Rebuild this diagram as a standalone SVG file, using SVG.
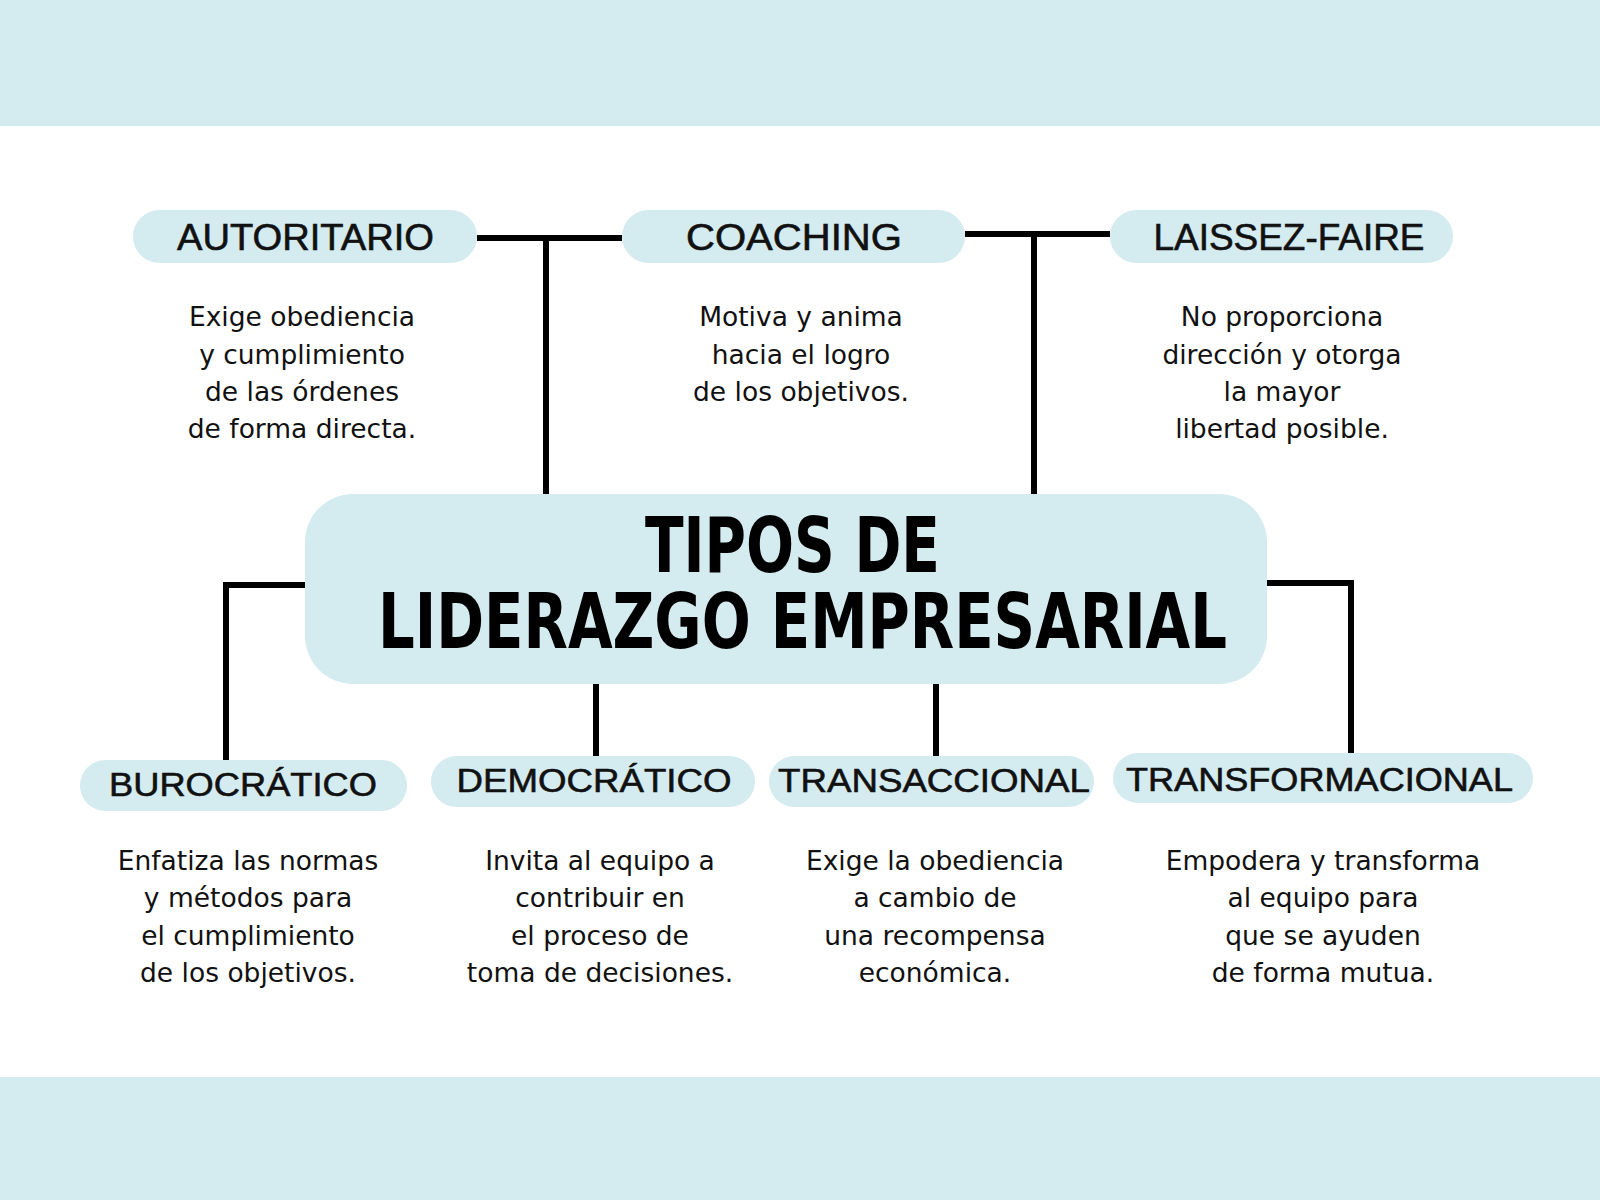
<svg xmlns="http://www.w3.org/2000/svg" width="1600" height="1200" viewBox="0 0 1600 1200">
<style>
.band{fill:#d4ebf0}
.pill{fill:#d4ebf0}
.lbl{font-family:"Liberation Sans",Arial,sans-serif;font-size:37px;fill:#111;stroke:#111;stroke-width:0.6;text-anchor:middle}
.lbl2{font-family:"Liberation Sans",Arial,sans-serif;font-size:34px;fill:#111;stroke:#111;stroke-width:0.6;text-anchor:middle}
.body{font-family:"DejaVu Sans","Noto Sans",sans-serif;font-size:26.5px;fill:#111;text-anchor:middle}
.title{font-family:"Liberation Sans Narrow","DejaVu Sans Condensed","DejaVu Sans",sans-serif;font-weight:bold;font-size:76px;fill:#000;font-stretch:condensed}
.conn{fill:none;stroke:#000;stroke-width:6;stroke-linecap:butt;stroke-linejoin:miter}
</style>
<rect width="1600" height="1200" fill="#ffffff"/>
<rect class="band" x="0" y="0" width="1600" height="126"/>
<rect class="band" x="0" y="1077" width="1600" height="123"/>

<g id="connectors">
<path class="conn" d="M477,238 H622"/>
<path class="conn" d="M546,238 V494"/>
<path class="conn" d="M965,234 H1110"/>
<path class="conn" d="M1034,234 V494"/>
<path class="conn" d="M305,585 H226 V760"/>
<path class="conn" d="M1267,583 H1351 V753"/>
<path class="conn" d="M596,684 V756"/>
<path class="conn" d="M936,684 V756"/>
</g>

<g id="center">
<rect class="pill" x="305" y="494" width="962" height="190" rx="48"/>
<text class="title" x="645" y="572" textLength="295" lengthAdjust="spacingAndGlyphs">TIPOS DE</text>
<text class="title" x="378" y="648" textLength="849" lengthAdjust="spacingAndGlyphs">LIDERAZGO EMPRESARIAL</text>
</g>

<g id="autoritario">
<rect class="pill" x="133" y="210" width="344" height="53" rx="26.5"/>
<text class="lbl" x="305.5" y="250" textLength="257" lengthAdjust="spacingAndGlyphs">AUTORITARIO</text>
<text class="body" x="302" y="326">Exige obediencia</text>
<text class="body" x="302" y="363.5">y cumplimiento</text>
<text class="body" x="302" y="401">de las órdenes</text>
<text class="body" x="302" y="438">de forma directa.</text>
</g>

<g id="coaching">
<rect class="pill" x="622" y="210" width="343" height="53" rx="26.5"/>
<text class="lbl" x="794" y="250" textLength="216" lengthAdjust="spacingAndGlyphs">COACHING</text>
<text class="body" x="801" y="326">Motiva y anima</text>
<text class="body" x="801" y="363.5">hacia el logro</text>
<text class="body" x="801" y="401">de los objetivos.</text>
</g>

<g id="laissez-faire">
<rect class="pill" x="1110" y="210" width="343" height="53" rx="26.5"/>
<text class="lbl" x="1289" y="250" textLength="271" lengthAdjust="spacingAndGlyphs">LAISSEZ-FAIRE</text>
<text class="body" x="1282" y="326">No proporciona</text>
<text class="body" x="1282" y="363.5">dirección y otorga</text>
<text class="body" x="1282" y="401">la mayor</text>
<text class="body" x="1282" y="438">libertad posible.</text>
</g>

<g id="burocratico">
<rect class="pill" x="80" y="760" width="327" height="51" rx="25.5"/>
<text class="lbl2" x="243" y="796" textLength="268" lengthAdjust="spacingAndGlyphs">BUROCRÁTICO</text>
<text class="body" x="248" y="870">Enfatiza las normas</text>
<text class="body" x="248" y="907.3">y métodos para</text>
<text class="body" x="248" y="944.6">el cumplimiento</text>
<text class="body" x="248" y="982">de los objetivos.</text>
</g>

<g id="democratico">
<rect class="pill" x="431" y="756" width="324" height="51" rx="25.5"/>
<text class="lbl2" x="594" y="792" textLength="275" lengthAdjust="spacingAndGlyphs">DEMOCRÁTICO</text>
<text class="body" x="600" y="870">Invita al equipo a</text>
<text class="body" x="600" y="907.3">contribuir en</text>
<text class="body" x="600" y="944.6">el proceso de</text>
<text class="body" x="600" y="982">toma de decisiones.</text>
</g>

<g id="transaccional">
<rect class="pill" x="769" y="756" width="325" height="51" rx="25.5"/>
<text class="lbl2" x="934" y="792" textLength="312" lengthAdjust="spacingAndGlyphs">TRANSACCIONAL</text>
<text class="body" x="935" y="870">Exige la obediencia</text>
<text class="body" x="935" y="907.3">a cambio de</text>
<text class="body" x="935" y="944.6">una recompensa</text>
<text class="body" x="935" y="982">económica.</text>
</g>

<g id="transformacional">
<rect class="pill" x="1113" y="753" width="420" height="50" rx="25"/>
<text class="lbl2" x="1319.5" y="791" textLength="387" lengthAdjust="spacingAndGlyphs">TRANSFORMACIONAL</text>
<text class="body" x="1323" y="870">Empodera y transforma</text>
<text class="body" x="1323" y="907.3">al equipo para</text>
<text class="body" x="1323" y="944.6">que se ayuden</text>
<text class="body" x="1323" y="982">de forma mutua.</text>
</g>
</svg>
